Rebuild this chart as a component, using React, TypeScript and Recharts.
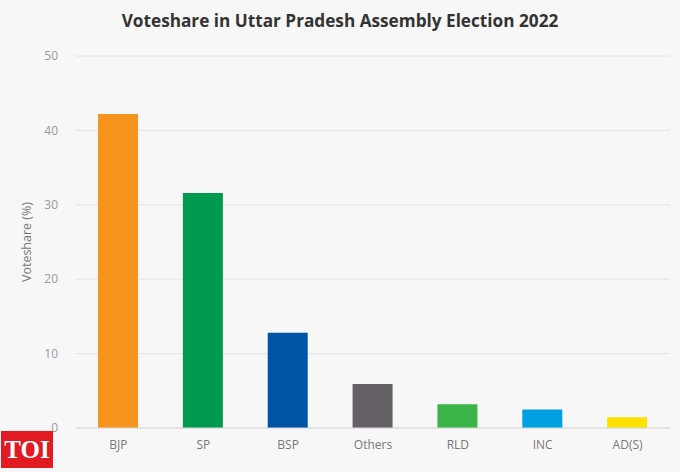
import React from "react";
import { BarChart, Bar, XAxis, YAxis, CartesianGrid, Cell, Label } from "recharts";

const parties = ["BJP", "SP", "BSP", "Others", "RLD", "INC", "AD(S)"];
const voteshare = [42.2, 31.6, 12.8, 5.9, 3.2, 2.5, 1.45];
const partyColors = ["#f7941d", "#009a4e", "#0054a6", "#656166", "#3bb54a", "#00a0e0", "#ffe100"];
const yTicks = [0, 10, 20, 30, 40, 50];

const data = parties.map((p, i) => ({ party: p, value: voteshare[i] }));

export default function App() {
  return (
    <div
      style={{
        position: "absolute",
        left: 0,
        top: 0,
        width: 680,
        height: 472,
        background: "#f7f7f7",
        overflow: "hidden",
        fontFamily: "'Open Sans', sans-serif",
      }}
    >
      <div
        style={{
          position: "absolute",
          left: 0,
          top: 9,
          width: 680,
          textAlign: "center",
          fontSize: 17.2,
          fontWeight: 700,
          color: "#333333",
          fontFamily: "'Open Sans', sans-serif",
        }}
      >
        Voteshare in Uttar Pradesh Assembly Election 2022
      </div>
      <BarChart
        width={680}
        height={472}
        data={data}
        margin={{ top: 56, right: 10, bottom: 14, left: 0 }}
        barSize={40}
      >
        <CartesianGrid horizontal={true} vertical={false} stroke="#e4e4e4" />
        <XAxis
          dataKey="party"
          height={30}
          tickLine={false}
          axisLine={{ stroke: "#d8d8d8" }}
          tick={{ fill: "#777777", fontSize: 12 }}
          tickMargin={6}
          interval={0}
        />
        <YAxis
          width={76}
          domain={[0, 50]}
          ticks={yTicks}
          tickLine={false}
          axisLine={false}
          tickSize={0}
          tickMargin={18}
          tick={{ fill: "#999999", fontSize: 12 }}
        >
          <Label
            value="Voteshare (%)"
            angle={-90}
            position="insideLeft"
            offset={27}
            style={{ textAnchor: "middle", fill: "#777777", fontSize: 12.5 }}
          />
        </YAxis>
        <Bar dataKey="value" isAnimationActive={false}>
          {data.map((d, i) => (
            <Cell key={d.party} fill={partyColors[i]} />
          ))}
        </Bar>
      </BarChart>
      <div
        style={{
          position: "absolute",
          left: 1,
          top: 431,
          width: 52,
          height: 37,
          background: "#e21b22",
          color: "#ffffff",
          fontFamily: "'Liberation Serif', 'DejaVu Serif', serif",
          fontWeight: 700,
          fontSize: 25,
          lineHeight: "37px",
          textAlign: "center",
        }}
      >
        TOI
      </div>
    </div>
  );
}
